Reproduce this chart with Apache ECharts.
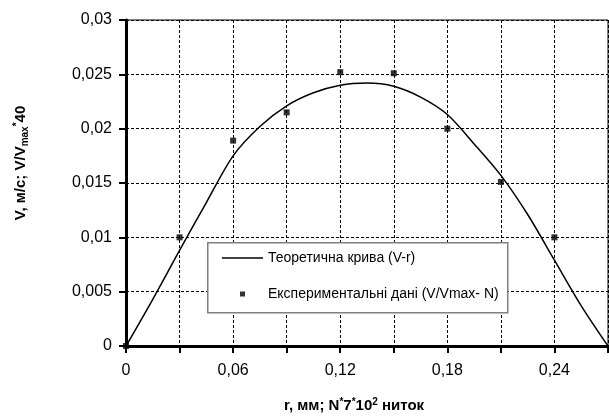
<!DOCTYPE html>
<html><head><meta charset="utf-8">
<script src="https://cdn.jsdelivr.net/npm/echarts@6/dist/echarts.min.js"></script>
<style>html,body{margin:0;padding:0;background:#fff}#c{width:609px;height:417px}</style>
</head><body><div id="c"></div>
<script>
// Theoretical curve V(r)
const theoryR = [0, 0.015, 0.03, 0.045, 0.06, 0.075, 0.09, 0.105, 0.12, 0.135, 0.15, 0.165, 0.18, 0.195, 0.21, 0.225, 0.24, 0.255, 0.27];
const theoryV = [0, 0.0043, 0.0088, 0.0132, 0.0175, 0.0202, 0.0221, 0.0233, 0.0240, 0.0242, 0.0239, 0.0229, 0.0213, 0.0186, 0.0157, 0.0121, 0.0079, 0.0037, 0];
// Experimental data V/Vmax*40 vs N
const expN = [0, 0.03, 0.06, 0.09, 0.12, 0.15, 0.18, 0.21, 0.24];
const expV = [0, 0.0100, 0.0189, 0.0215, 0.0252, 0.0251, 0.0200, 0.0151, 0.0100];
const yTickLabels = ['0', '0,005', '0,01', '0,015', '0,02', '0,025', '0,03'];
const xTickLabels = ['0', '', '0,06', '', '0,12', '', '0,18', '', '0,24', ''];
const seriesNames = ['Теоретична крива (V-r)', 'Експериментальні дані (V/Vmax- N)'];

const FONT = 'Liberation Sans, Arial, sans-serif';
const chart = echarts.init(document.getElementById('c'), null, {renderer: 'canvas'});
const lineIcon = 'path://M0,0M41,12M0,5.3L41,5.3L41,6.7L0,6.7Z';
const dotIcon = 'path://M0,0M41,12M18,3.5L23,3.5L23,8.5L18,8.5Z';
chart.setOption({
  animation: false,
  backgroundColor: '#fff',
  grid: {left: 126, right: 1, top: 20, bottom: 71, show: true, borderColor: '#000', borderWidth: 1, outerBoundsMode: 'none'},
  xAxis: {
    type: 'value', min: 0, max: 0.27, interval: 0.03,
    name: '{b|r, мм; N}{sup|*}{b|7}{sup|*}{b|10}{sup|2}{b| ниток}',
    nameLocation: 'middle', nameGap: 51,
    nameTextStyle: {
      padding: [0, 26, 0, 0],
      rich: {
        b: {fontFamily: FONT, fontWeight: 'bold', fontSize: 15, color: '#000'},
        sup: {fontFamily: FONT, fontWeight: 'bold', fontSize: 10, color: '#000', padding: [0, 0, 8, 0]}
      }
    },
    axisLine: {lineStyle: {color: '#000', width: 3}},
    axisTick: {length: 7, lineStyle: {color: '#000', width: 2}},
    axisLabel: {
      margin: 17, color: '#000', fontFamily: FONT, fontSize: 16,
      formatter: v => xTickLabels[Math.round(v / 0.03)] || ''
    },
    splitLine: {show: true, lineStyle: {color: '#000', width: 1, type: [3, 2]}}
  },
  yAxis: {
    type: 'value', min: 0, max: 0.03, interval: 0.005,
    name: '{b|V, м/с; V/V}{sub|max}{sup|*}{b|40}',
    nameLocation: 'middle', nameRotate: 90, nameGap: 96,
    nameTextStyle: {
      padding: [0, 0, 0, 40],
      rich: {
        b: {fontFamily: FONT, fontWeight: 'bold', fontSize: 15, color: '#000'},
        sub: {fontFamily: FONT, fontWeight: 'bold', fontSize: 10, color: '#000', padding: [8, 0, 0, 0]},
        sup: {fontFamily: FONT, fontWeight: 'bold', fontSize: 10, color: '#000', padding: [0, 0, 8, 0]}
      }
    },
    axisLine: {show: true, lineStyle: {color: '#000', width: 3}},
    axisTick: {show: true, length: 7, lineStyle: {color: '#000', width: 2}},
    axisLabel: {
      margin: 14, color: '#000', fontFamily: FONT, fontSize: 16,
      formatter: v => yTickLabels[Math.round(v / 0.005)]
    },
    splitLine: {show: true, lineStyle: {color: '#000', width: 1, type: [3, 2]}}
  },
  legend: {
    orient: 'vertical', left: 222, top: 251, itemWidth: 41, itemHeight: 12, itemGap: 22,
    padding: 0, z: 20,
    textStyle: {fontFamily: FONT, fontSize: 14, color: '#000'},
    data: [
      {name: seriesNames[0], icon: lineIcon, itemStyle: {color: '#000'}},
      {name: seriesNames[1], icon: dotIcon, itemStyle: {color: '#000'}}
    ]
  },
  graphic: [{
    type: 'rect', z: 10, left: 207, top: 242,
    shape: {width: 300, height: 70},
    style: {fill: '#fff', stroke: '#808080', lineWidth: 1.5}
  }],
  series: [
    {
      name: seriesNames[0], type: 'line', showSymbol: false, symbol: 'none', smooth: 0.3,
      data: theoryR.map((r, i) => [r, theoryV[i]]),
      lineStyle: {color: '#000', width: 1.5}, itemStyle: {color: '#000'}, z: 3
    },
    {
      name: seriesNames[1], type: 'scatter', symbol: 'rect', symbolSize: 6,
      data: expN.map((n, i) => [n, expV[i]]),
      itemStyle: {color: '#000'}, z: 4
    }
  ]
});
</script></body></html>
